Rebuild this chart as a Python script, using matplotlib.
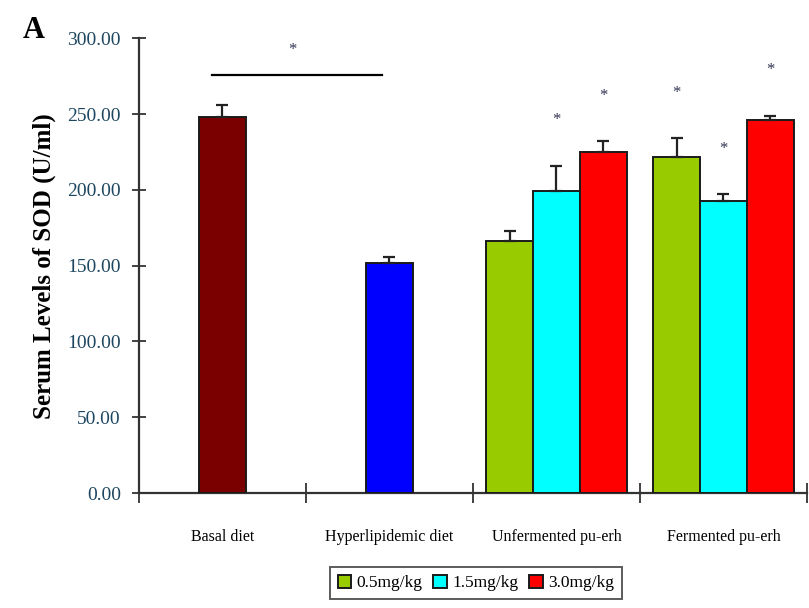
import matplotlib
matplotlib.use("Agg")
import matplotlib.pyplot as plt
import numpy as np

# Data
categories = ["Basal diet", "Hyperlipidemic diet", "Unfermented pu-erh", "Fermented pu-erh"]
control_values = [248.0, 152.0]
control_errors = [8.0, 4.0]
control_colors = ["#7a0000", "#0000ff"]
dose_labels = ["0.5mg/kg", "1.5mg/kg", "3.0mg/kg"]
dose_colors = ["#99cc00", "#00ffff", "#ff0000"]
unfermented_values = [166.0, 199.0, 225.0]
unfermented_errors = [7.0, 17.0, 7.0]
fermented_values = [222.0, 193.0, 246.0]
fermented_errors = [12.0, 4.0, 3.0]
yticks = [0, 50, 100, 150, 200, 250, 300]

plt.rcParams['font.family'] = ['Liberation Serif', 'DejaVu Serif']

fig = plt.figure(figsize=(8.09, 6.08), dpi=100)
ax = fig.add_axes([0.1718, 0.189, 0.8257, 0.748])

bw = 0.28
err_kw = dict(ecolor="#222222", elinewidth=1.6, capsize=4, capthick=1.6)
edge = dict(edgecolor="#1a1a1a", linewidth=1.4)

# Control groups
for i, (v, e, c) in enumerate(zip(control_values, control_errors, control_colors)):
    ax.bar(i + 0.5, v, bw, color=c, yerr=[[0], [e]], error_kw=err_kw, zorder=3, **edge)

# Tea groups, three doses each
offsets = [-bw, 0, bw]
star_gap = 30
for gi, (vals, errs) in enumerate([(unfermented_values, unfermented_errors),
                                   (fermented_values, fermented_errors)]):
    center = 2.5 + gi
    for k in range(3):
        ax.bar(center + offsets[k], vals[k], bw, color=dose_colors[k],
               yerr=[[0], [errs[k]]], error_kw=err_kw, zorder=3,
               label=dose_labels[k] if gi == 0 else None, **edge)
        if not (gi == 0 and k == 0):
            ax.text(center + offsets[k], vals[k] + errs[k] + star_gap, "*",
                    ha="center", va="center", fontsize=12, color="#333355")

# Significance bracket between basal and hyperlipidemic diets
ax.plot([0.44, 1.455], [276, 276], color="black", lw=1.6, clip_on=False)
ax.text(0.92, 292, "*", ha="center", va="center", fontsize=12, color="#333355")

ax.set_xlim(0, 4)
ax.set_ylim(0, 300)
ax.set_yticks(yticks)
ax.set_yticklabels([f"{t:.2f}" for t in yticks], fontsize=14, color="#1d4660")
ax.set_xticks([0, 1, 2, 3, 4])
ax.set_xticklabels([])
ax.set_xticks([0.5, 1.5, 2.5, 3.5], minor=True)
ax.set_xticklabels(categories, minor=True, fontsize=11.5)
ax.tick_params(axis="x", which="major", direction="inout", length=14, width=1.3, color="#333333")
ax.tick_params(axis="x", which="minor", length=0, pad=26)
ax.tick_params(axis="y", direction="inout", length=10, width=1.3, color="#333333", pad=8)

for s in ["top", "right"]:
    ax.spines[s].set_visible(False)
for s in ["left", "bottom"]:
    ax.spines[s].set_linewidth(1.6)
    ax.spines[s].set_color("#333333")

ax.set_ylabel("Serum Levels of SOD (U/ml)", fontsize=18, fontweight="bold", labelpad=8)

fig.text(0.028, 0.95, "A", fontsize=22, fontweight="bold", ha="left", va="center")

leg = fig.legend(loc="center", bbox_to_anchor=(0.588, 0.041), ncol=3,
                 fontsize=12.5, handlelength=0.8, handleheight=0.8, handletextpad=0.3,
                 columnspacing=0.6, borderpad=0.45, frameon=True, fancybox=False)
leg.get_frame().set_edgecolor("#333333")
leg.get_frame().set_linewidth(1.4)

fig.savefig("out.png", dpi=100)
